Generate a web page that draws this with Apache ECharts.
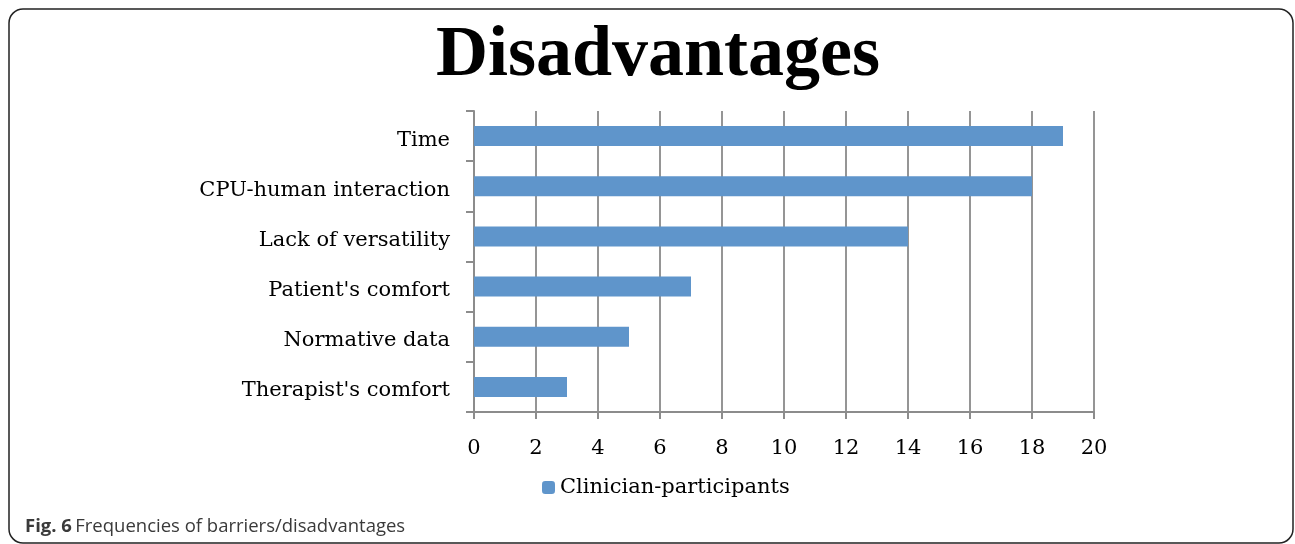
<!DOCTYPE html>
<html>
<head>
<meta charset="utf-8">
<script src="https://cdn.jsdelivr.net/npm/echarts@6/dist/echarts.min.js"></script>
<style>
html, body { margin: 0; padding: 0; background: #fff; }
#chart { width: 1295px; height: 544px; }
</style>
</head>
<body>
<div id="chart"></div>
<script>
var categories = ["Therapist's comfort", "Normative data", "Patient's comfort", "Lack of versatility", "CPU-human interaction", "Time"];
var values = [3, 5, 7, 14, 18, 19];
var seriesName = 'Clinician-participants';

var chart = echarts.init(document.getElementById('chart'));
var serif = '"DejaVu Serif", "Liberation Serif", serif';

var option = {
	backgroundColor: '#fff',
	animation: false,
	title: {
		text: 'Disadvantages',
		left: 431,
		top: 15,
		textStyle: {
			fontFamily: '"Liberation Serif", serif',
			fontWeight: 'bold',
			fontSize: 72,
			color: '#000'
		}
	},
	legend: {
		data: [seriesName],
		top: 472,
		left: 537,
		itemWidth: 13,
		itemHeight: 13,
		itemGap: 6,
		textStyle: { fontFamily: serif, fontSize: 21, color: '#000' }
	},
	grid: { left: 474, right: 201, top: 111, bottom: 132 },
	xAxis: {
		type: 'value',
		min: 0,
		max: 20,
		interval: 2,
		axisLine: { show: true, lineStyle: { color: '#8c8c8c', width: 2 } },
		axisTick: { show: true, length: 7, lineStyle: { color: '#8c8c8c', width: 2 } },
		axisLabel: { margin: 26, fontFamily: serif, fontSize: 21, color: '#000' },
		splitLine: { show: true, lineStyle: { color: '#959595', width: 2 } }
	},
	yAxis: {
		type: 'category',
		data: categories,
		axisLine: { show: true, lineStyle: { color: '#8c8c8c', width: 2 } },
		axisTick: { show: true, length: 8, lineStyle: { color: '#8c8c8c', width: 2 } },
		axisLabel: {
			margin: 24,
			fontFamily: serif,
			fontSize: 21,
			color: '#000',
			formatter: function (v) { return '{a|' + v + '}'; },
			rich: { a: { fontFamily: serif, fontSize: 21, color: '#000', padding: [8, 0, 0, 0] } }
		}
	},
	series: [{
		name: seriesName,
		type: 'bar',
		data: values,
		barWidth: '40%',
		itemStyle: { color: '#5f95cb' }
	}],
	graphic: [
		{
			type: 'rect',
			shape: { x: 9, y: 9, width: 1284, height: 534, r: 14 },
			style: { fill: 'none', stroke: '#222', lineWidth: 1.5 },
			silent: true
		},
		{
			type: 'text',
			left: 25,
			top: 517,
			style: {
				rich: {
					b: { fontFamily: '"Open Sans", sans-serif', fontWeight: 'bold', fontSize: 18.5, fill: '#3a3a3a' },
					n: { fontFamily: '"Open Sans", sans-serif', fontSize: 18.5, fill: '#3a3a3a' }
				},
				text: '{b|Fig. 6} {n|Frequencies of barriers/disadvantages}'
			}
		}
	]
};

chart.setOption(option);

window.onresize = function() {
	chart.resize();
};
</script>
</body>
</html>
